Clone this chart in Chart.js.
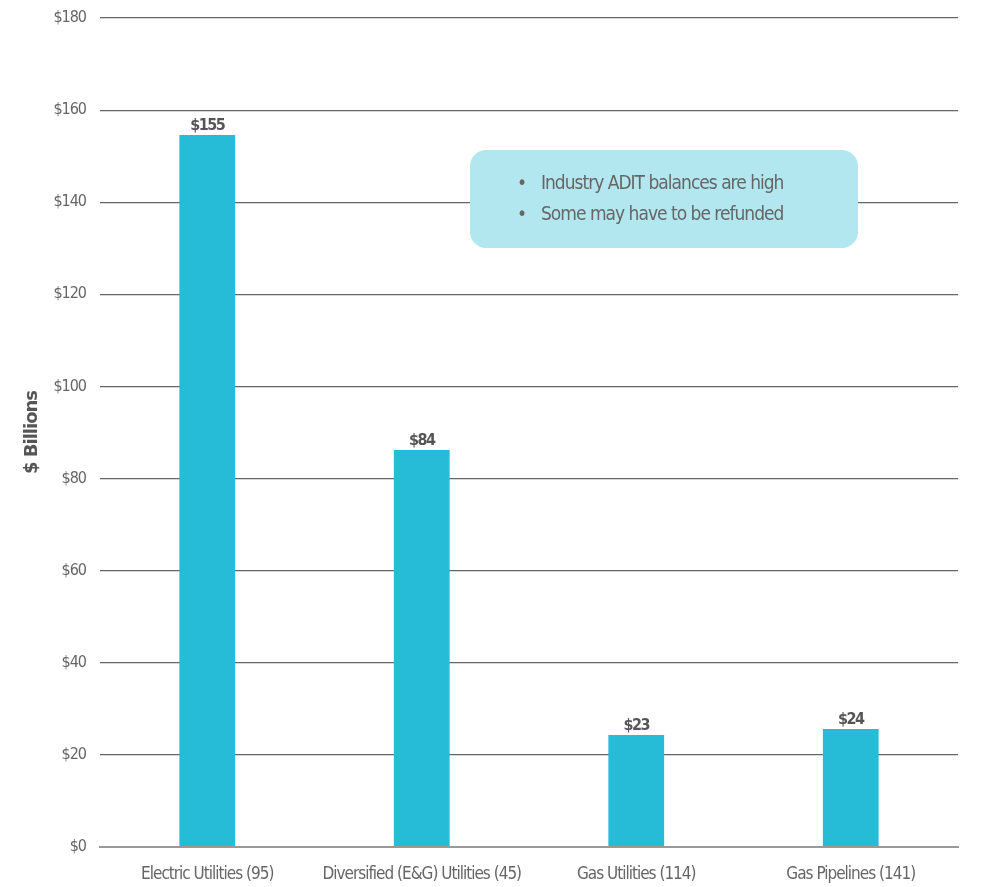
<!DOCTYPE html>
<html>
<head>
<meta charset="utf-8">
<script src="https://cdn.jsdelivr.net/npm/chart.js@4"></script>
<style>
  html, body { margin: 0; padding: 0; background: #fff; }
  #wrap { width: 987px; height: 887px; }
</style>
</head>
<body>
<div id="wrap"><canvas id="adit-chart" width="987" height="887"></canvas></div>
<script>
// values
const categories = ["Electric Utilities (95)", "Diversified (E&G) Utilities (45)", "Gas Utilities (114)", "Gas Pipelines (141)"];
const barValues = [154.6, 86.2, 24.3, 25.6];
const barLabels = ["$155", "$84", "$23", "$24"];
const noteLines = ["Industry ADIT balances are high", "Some may have to be refunded"];

const FONT = "'DejaVu Sans Condensed', 'Liberation Sans Narrow', sans-serif";
const barColor = "#26bbd6";

// squeeze the axis text a bit, the original font is very narrow
const tightText = {
    id: "tightText",
    beforeDraw(chart) {
        chart.ctx.letterSpacing = "-1px";
    }
};

// value labels on top of bars
const valueLabels = {
    id: "valueLabels",
    afterDatasetsDraw(chart) {
        const ctx = chart.ctx;
        const meta = chart.getDatasetMeta(0);
        ctx.save();
        ctx.letterSpacing = "-1.5px";
        ctx.font = "bold 16px " + FONT;
        ctx.fillStyle = "#555";
        ctx.textAlign = "center";
        ctx.textBaseline = "bottom";
        meta.data.forEach((bar, i) => {
            ctx.fillText(barLabels[i], bar.x, bar.y - 1);
        });
        ctx.restore();
    }
};

// the rounded note box
const noteBox = {
    id: "noteBox",
    afterDraw(chart) {
        const ctx = chart.ctx;
        const x = 470, y = 150, w = 388, h = 98, r = 16;
        ctx.save();
        ctx.fillStyle = "#b3e7f0";
        ctx.beginPath();
        ctx.roundRect(x, y, w, h, r);
        ctx.fill();
        ctx.letterSpacing = "-1px";
        ctx.font = "19px " + FONT;
        ctx.fillStyle = "#666";
        ctx.textBaseline = "middle";
        noteLines.forEach((line, i) => {
            const ly = 184 + i * 31;
            ctx.fillText("\u2022", 517, ly);
            ctx.fillText(line, 541, ly);
        });
        ctx.restore();
    }
};

const ctx = document.getElementById("adit-chart").getContext("2d");
const aditChart = new Chart(ctx, {
    type: "bar",
    data: {
        labels: categories,
        datasets: [{
            data: barValues,
            backgroundColor: barColor,
            barPercentage: 0.26,
            categoryPercentage: 1.0
        }]
    },
    options: {
        responsive: false,
        animation: false,
        layout: { padding: { top: 18, right: 29, bottom: 0, left: 0 } },
        plugins: {
            legend: { display: false },
            tooltip: { enabled: false }
        },
        scales: {
            x: {
                grid: { display: false, drawTicks: false },
                border: { display: true, color: "#999", width: 2 },
                ticks: {
                    color: "#666",
                    padding: 17,
                    autoSkip: false,
                    maxRotation: 0,
                    minRotation: 0,
                    font: { family: FONT, size: 17 }
                },
                afterFit(scale) { scale.height = 40; }
            },
            y: {
                min: 0,
                max: 180,
                ticks: {
                    stepSize: 20,
                    color: "#666",
                    padding: 14,
                    font: { family: FONT, size: 16 },
                    callback: v => "$" + v
                },
                grid: {
                    color: ctx => ctx.tick.value === 0 ? "#999" : "#666",
                    lineWidth: ctx => ctx.tick.value === 0 ? 2 : 1.2,
                    drawTicks: false
                },
                border: { display: false },
                title: {
                    display: true,
                    text: "$ Billions",
                    color: "#555",
                    padding: { top: 22, bottom: 0 },
                    font: { family: "'DejaVu Sans', sans-serif", size: 18, weight: "bold" }
                },
                afterFit(scale) {
                    scale.width = 100;
                    scale.paddingTop = 0;
                    scale.paddingBottom = 0;
                }
            }
        }
    },
    plugins: [tightText, valueLabels, noteBox]
});
</script>
</body>
</html>
